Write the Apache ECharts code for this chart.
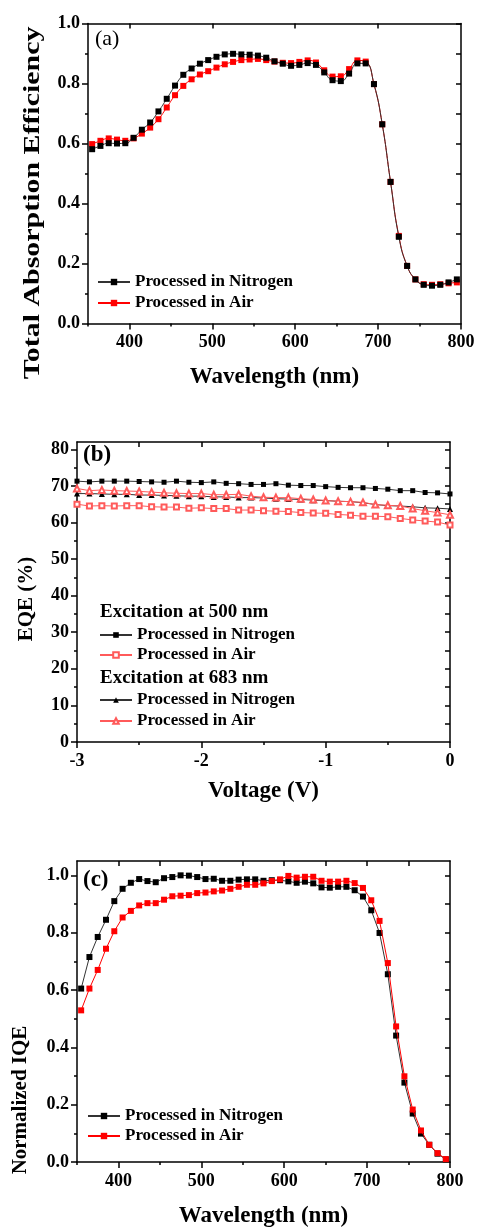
<!DOCTYPE html>
<html><head><meta charset="utf-8">
<script src="https://cdn.jsdelivr.net/npm/echarts@6/dist/echarts.min.js"></script>
<style>html,body{margin:0;padding:0;background:#fff}#c{width:477px;height:1228px}</style>
</head><body><div id="c"></div>
<script>
// ---------- data ----------
const wavelengthA = [355,365,375,385,395,405,415,425,435,445,455,465,475,485,495,505,515,525,535,545,555,565,575,585,595,605,615,625,635,645,655,665,675,685,695,705,715,725,735,745,755,765,775,785,795];
const absNitrogen = [0.581,0.592,0.601,0.600,0.601,0.619,0.646,0.670,0.707,0.749,0.793,0.829,0.850,0.866,0.878,0.889,0.897,0.899,0.897,0.896,0.893,0.886,0.874,0.866,0.859,0.862,0.868,0.862,0.837,0.811,0.808,0.833,0.867,0.867,0.798,0.664,0.472,0.289,0.192,0.147,0.129,0.126,0.129,0.137,0.147];
const absAir = [0.598,0.609,0.617,0.613,0.609,0.617,0.633,0.653,0.681,0.720,0.761,0.792,0.814,0.830,0.841,0.853,0.864,0.872,0.878,0.880,0.882,0.878,0.873,0.869,0.868,0.872,0.877,0.870,0.844,0.823,0.824,0.848,0.877,0.873,0.798,0.664,0.472,0.292,0.192,0.147,0.131,0.129,0.131,0.134,0.137];

const voltage = [-3.0,-2.9,-2.8,-2.7,-2.6,-2.5,-2.4,-2.3,-2.2,-2.1,-2.0,-1.9,-1.8,-1.7,-1.6,-1.5,-1.4,-1.3,-1.2,-1.1,-1.0,-0.9,-0.8,-0.7,-0.6,-0.5,-0.4,-0.3,-0.2,-0.1,0.0];
const eqeN500 = [71.3,71.1,71.3,71.3,71.3,71.2,71.1,71.0,71.3,71.0,70.9,71.1,70.7,70.6,70.4,70.4,70.6,70.2,70.1,70.1,69.8,69.6,69.5,69.5,69.3,69.1,68.7,68.7,68.2,68.1,67.8];
const eqeA500 = [65.0,64.5,64.6,64.5,64.6,64.6,64.3,64.2,64.2,63.9,64.0,63.8,63.8,63.4,63.4,63.2,63.1,63.0,62.7,62.6,62.5,62.2,62.0,61.7,61.7,61.6,61.1,60.7,60.4,60.1,59.3];
const eqeN683 = [67.9,67.9,67.8,67.7,67.7,67.5,67.5,67.4,67.3,67.2,67.2,67.0,67.0,66.8,66.8,66.7,66.5,66.4,66.3,66.1,66.0,65.8,65.7,65.4,64.9,64.6,64.5,64.3,64.0,63.9,63.7];
const eqeA683 = [69.3,68.7,68.9,68.7,68.6,68.5,68.3,68.1,68.0,67.9,67.9,67.6,67.6,67.7,67.2,66.9,66.8,66.8,66.5,66.3,66.0,65.8,65.7,65.5,64.9,64.7,64.5,63.8,63.2,62.7,62.1];

const wavelengthC = [355,365,375,385,395,405,415,425,435,445,455,465,475,485,495,505,515,525,535,545,555,565,575,585,595,605,615,625,635,645,655,665,675,685,695,705,715,725,735,745,755,765,775,785,795];
const iqeNitrogen = [0.605,0.715,0.785,0.845,0.910,0.953,0.974,0.987,0.980,0.976,0.990,0.994,1.000,0.999,0.994,0.987,0.988,0.981,0.981,0.985,0.986,0.986,0.981,0.983,0.983,0.979,0.974,0.978,0.972,0.958,0.957,0.960,0.960,0.948,0.926,0.878,0.799,0.655,0.441,0.277,0.169,0.099,0.060,0.029,0.009];
const iqeAir = [0.529,0.605,0.670,0.744,0.805,0.853,0.876,0.895,0.903,0.903,0.915,0.927,0.929,0.931,0.938,0.940,0.944,0.947,0.953,0.960,0.967,0.967,0.972,0.980,0.986,0.998,0.992,0.995,0.995,0.981,0.978,0.978,0.981,0.973,0.956,0.913,0.841,0.694,0.473,0.299,0.183,0.110,0.060,0.031,0.010];

// tick values
const wlMajor = [400,500,600,700,800];
const wlMinor = [350,450,550,650,750];
const wlTopA = [400,500,600,700];
const wlTopC = [400,450,500,550,600,650,700,750];
const frac02 = [0.0,0.2,0.4,0.6,0.8,1.0];
const frac01odd = [0.1,0.3,0.5,0.7,0.9];
const frac01all = [0.1,0.2,0.3,0.4,0.5,0.6,0.7,0.8,0.9,1.0];
const vMajor = [-3,-2,-1,0];
const vMinor = [-2.5,-1.5,-0.5];
const eqeMajor = [0,10,20,30,40,50,60,70,80];
const eqeMinor = [5,15,25,35,45,55,65,75];
const eqeRight = [5,10,15,20,25,30,35,40,45,50,55,60,65,70,75,80];

const seriesLabels = {N: 'Processed in Nitrogen', A: 'Processed in Air'};

// ---------- helpers ----------
const F = '"Liberation Serif","Times New Roman",serif';
const BLACK = '#000';
const lineSty = {color: BLACK, width: 1.5};
const tickLabel = {fontFamily: F, fontWeight: 'bold', fontSize: 18, color: BLACK};

function xAxes(g, min, max, major, minor, top, fmt, name, gap) {
  return [
    {type:'value', gridIndex:g, min:min, max:max, position:'bottom',
     axisLine:{show:true, onZero:false, lineStyle:lineSty},
     axisTick:{show:true, length:6, customValues:major, lineStyle:lineSty},
     axisLabel:Object.assign({show:true, margin:10, customValues:major, formatter:fmt}, tickLabel),
     splitLine:{show:false},
     name:name, nameLocation:'middle', nameGap:gap,
     nameTextStyle:{fontFamily:F, fontWeight:'bold', fontSize:23, color:BLACK, verticalAlign:'middle'}},
    {type:'value', gridIndex:g, min:min, max:max, position:'bottom',
     axisLine:{show:false, onZero:false}, axisTick:{show:true, length:3, customValues:minor, lineStyle:lineSty},
     axisLabel:{show:false}, splitLine:{show:false}},
    {type:'value', gridIndex:g, min:min, max:max, position:'top',
     axisLine:{show:true, onZero:false, lineStyle:lineSty}, axisTick:{show:true, inside:true, length:5, customValues:top, lineStyle:lineSty},
     axisLabel:{show:false}, splitLine:{show:false}}
  ];
}
function yAxes(g, min, max, major, minor, right, fmt) {
  return [
    {type:'value', gridIndex:g, min:min, max:max, position:'left',
     axisLine:{show:true, onZero:false, lineStyle:lineSty},
     axisTick:{show:true, length:6, customValues:major, lineStyle:lineSty},
     axisLabel:Object.assign({show:true, margin:8, customValues:major, formatter:fmt}, tickLabel),
     splitLine:{show:false}},
    {type:'value', gridIndex:g, min:min, max:max, position:'left',
     axisLine:{show:false, onZero:false}, axisTick:{show:true, length:3, customValues:minor, lineStyle:lineSty},
     axisLabel:{show:false}, splitLine:{show:false}},
    {type:'value', gridIndex:g, min:min, max:max, position:'right',
     axisLine:{show:true, onZero:false, lineStyle:lineSty}, axisTick:{show:true, inside:true, length:5, customValues:right, lineStyle:lineSty},
     axisLabel:{show:false}, splitLine:{show:false}}
  ];
}
const fmt1 = v => v.toFixed(1);
const fmt0 = v => String(Math.round(v));

function pairs(xs, ys) { return xs.map((x, i) => [x, ys[i]]); }
function mk(name, g, xs, ys, color, symbol, size, smooth, lineColor, z) {
  return {
    name:name, type:'line', xAxisIndex:3*g, yAxisIndex:3*g,
    data:pairs(xs, ys), symbol:symbol, symbolSize:size, smooth:smooth,
    showSymbol:true, animation:false, z:z,
    lineStyle:{color:lineColor, width:1},
    itemStyle:{color:color, borderWidth:1},
    emphasis:{disabled:true}
  };
}

const RED = '#ff0000';
const PINK = '#ff5a5a';

const legendText = {fontFamily:F, fontWeight:'bold', fontSize:17, color:BLACK, lineHeight:20};
function legend(left, top, gap, ih, data) {
  return {left:left, top:top, orient:'vertical', padding:0, itemGap:gap, itemWidth:32, itemHeight:ih,
          selectedMode:false, data:data, textStyle:legendText,
          formatter: n => seriesLabels[n.slice(-1)]};
}

const option = {
  backgroundColor:'#fff',
  animation:false,
  grid:[
    {left:88, top:23.5, width:373, height:300, outerBoundsMode:'none', containLabel:false},
    {left:77, top:442, width:373, height:300, outerBoundsMode:'none', containLabel:false},
    {left:77, top:861, width:373, height:301, outerBoundsMode:'none', containLabel:false}
  ],
  xAxis:[].concat(
    xAxes(0, 350, 800, wlMajor, wlMinor, wlTopA, fmt0, 'Wavelength (nm)', 54),
    xAxes(1, -3, 0, vMajor, vMinor, [-2.5,-2,-1.5,-1,-0.5], fmt0, 'Voltage (V)', 49),
    xAxes(2, 350, 800, wlMajor, wlMinor, wlTopC, fmt0, 'Wavelength (nm)', 54)
  ),
  yAxis:[].concat(
    yAxes(0, 0, 1.0, frac02, frac01odd, frac01all, fmt1),
    yAxes(1, 0, 82, eqeMajor, eqeMinor, eqeRight, fmt0),
    yAxes(2, 0, 1.05, frac02, frac01odd, frac01all, fmt1)
  ),
  legend:[
    legend(97, 272, 1, 8, ['aN','aA']),
    legend(99, 625, 0, 7, ['b5N','b5A']),
    legend(99, 690, 1, 7, ['b6N','b6A']),
    legend(87, 1106, 0, 8, ['cN','cA'])
  ],
  series:[
    mk('aA', 0, wavelengthA, absAir, RED, 'rect', 6, true, RED, 2),
    mk('aN', 0, wavelengthA, absNitrogen, BLACK, 'rect', 6, true, '#333', 3),
    mk('b5N', 1, voltage, eqeN500, BLACK, 'rect', 5, false, '#333', 2),
    mk('b5A', 1, voltage, eqeA500, PINK, 'emptyRect', 5, false, PINK, 3),
    mk('b6N', 1, voltage, eqeN683, BLACK, 'triangle', 6, false, '#333', 4),
    mk('b6A', 1, voltage, eqeA683, PINK, 'emptyTriangle', 6, false, PINK, 5),
    mk('cN', 2, wavelengthC, iqeNitrogen, BLACK, 'rect', 6, false, '#333', 2),
    mk('cA', 2, wavelengthC, iqeAir, RED, 'rect', 6, false, RED, 3)
  ],
  graphic:[
    {type:'text', x:95, y:39, style:{text:'(a)', fontFamily:F, fontSize:22, fill:BLACK, align:'left', verticalAlign:'middle'}},
    {type:'text', x:83, y:455, style:{text:'(b)', fontFamily:F, fontWeight:'bold', fontSize:23, fill:BLACK, align:'left', verticalAlign:'middle'}},
    {type:'text', x:83, y:880, style:{text:'(c)', fontFamily:F, fontWeight:'bold', fontSize:23, fill:BLACK, align:'left', verticalAlign:'middle'}},
    {type:'text', x:100, y:612, style:{text:'Excitation at 500 nm', fontFamily:F, fontWeight:'bold', fontSize:19, fill:BLACK, align:'left', verticalAlign:'middle'}},
    {type:'text', x:100, y:678, style:{text:'Excitation at 683 nm', fontFamily:F, fontWeight:'bold', fontSize:19, fill:BLACK, align:'left', verticalAlign:'middle'}},
    {type:'text', x:33, y:203, rotation:Math.PI/2, scaleX:1.3, style:{text:'Total Absorption Efficiency', fontFamily:F, fontWeight:'bold', fontSize:23, fill:BLACK, align:'center', verticalAlign:'middle'}},
    {type:'text', x:27, y:599, rotation:Math.PI/2, style:{text:'EQE (%)', fontFamily:F, fontWeight:'bold', fontSize:21, fill:BLACK, align:'center', verticalAlign:'middle'}},
    {type:'text', x:21, y:1100, rotation:Math.PI/2, style:{text:'Normalized IQE', fontFamily:F, fontWeight:'bold', fontSize:21, fill:BLACK, align:'center', verticalAlign:'middle'}}
  ]
};
const chart = echarts.init(document.getElementById('c'));
chart.setOption(option);
</script>
</body></html>
